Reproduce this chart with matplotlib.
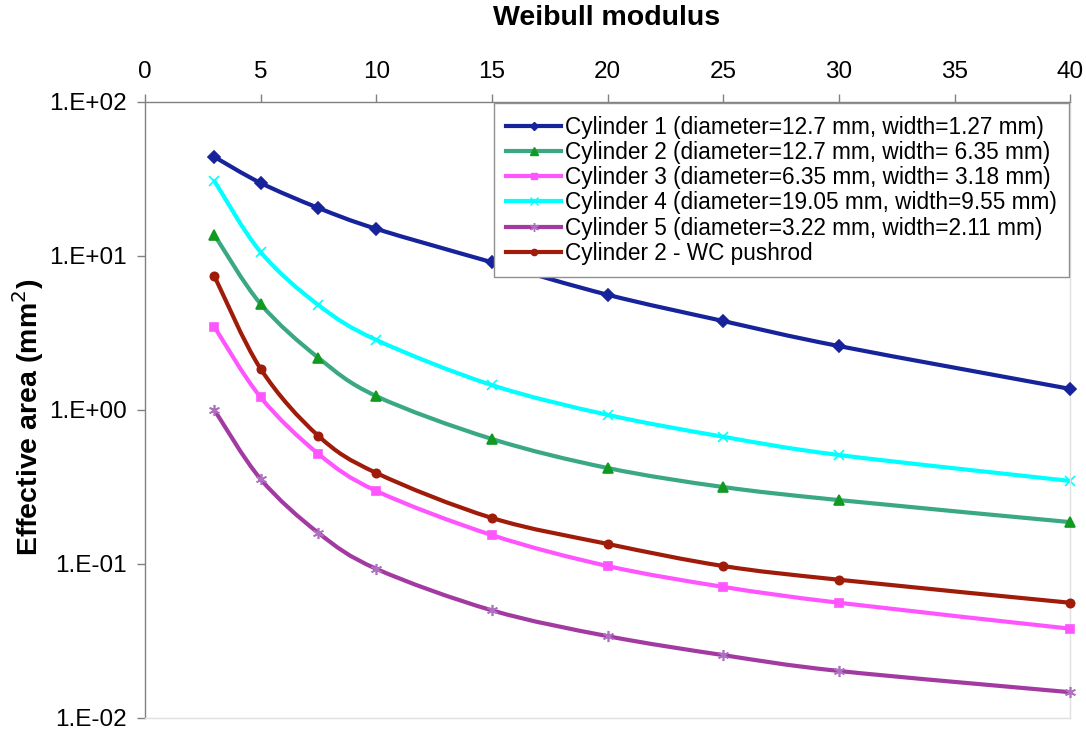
import numpy as np
import matplotlib
matplotlib.use("Agg")
import matplotlib.pyplot as plt
from matplotlib.path import Path
from matplotlib.patches import PathPatch
from matplotlib.lines import Line2D
from matplotlib.ticker import FixedLocator, FuncFormatter

plt.rcParams['font.family'] = ['Liberation Sans', 'DejaVu Sans']

# Weibull modulus values at which the effective area was evaluated
modulus = [3, 5, 7.5, 10, 15, 20, 25, 30, 40]

cyl1 = [44.0, 29.8, 20.5, 15.0, 9.1, 5.6, 3.78, 2.6, 1.37]
cyl2 = [13.7, 4.88, 2.18, 1.23, 0.648, 0.42, 0.316, 0.26, 0.187]
cyl3 = [3.46, 1.21, 0.518, 0.298, 0.154, 0.097, 0.071, 0.056, 0.038]
cyl4 = [30.7, 10.6, 4.8, 2.85, 1.45, 0.93, 0.67, 0.51, 0.346]
cyl5 = [1.0, 0.356, 0.159, 0.093, 0.050, 0.034, 0.0256, 0.0202, 0.0147]
cyl2_wc = [7.4, 1.85, 0.678, 0.39, 0.199, 0.135, 0.097, 0.079, 0.056]

labels = [
    "Cylinder 1 (diameter=12.7 mm, width=1.27 mm)",
    "Cylinder 2 (diameter=12.7 mm, width= 6.35 mm)",
    "Cylinder 3 (diameter=6.35 mm, width= 3.18 mm)",
    "Cylinder 4 (diameter=19.05 mm, width=9.55 mm)",
    "Cylinder 5 (diameter=3.22 mm, width=2.11 mm)",
    "Cylinder 2 - WC pushrod",
]

series = [cyl1, cyl2, cyl3, cyl4, cyl5, cyl2_wc]
line_colors = ["#16239a", "#3aa882", "#ff55ff", "#00ffff", "#a23aa2", "#a01c0a"]
marker_colors = ["#16239a", "#109a20", "#ff55ff", "#00ffff", "#b070c0", "#a01c0a"]
markers = ["D", "^", "s", "x", (6, 2, 0), "o"]
msizes = [6, 7, 6, 7, 8, 6]
zorders = [6, 4, 3, 2, 5, 4]


def smooth_path(xs, ys):
    """Cubic Bezier through the points (smoothed in log-y space)."""
    lx = np.asarray(xs, float)
    ly = np.log10(np.asarray(ys, float))
    n = len(lx)
    verts = [(lx[0], ly[0])]
    codes = [Path.MOVETO]
    for i in range(n - 1):
        p0 = np.array([lx[max(i - 1, 0)], ly[max(i - 1, 0)]])
        p1 = np.array([lx[i], ly[i]])
        p2 = np.array([lx[i + 1], ly[i + 1]])
        p3 = np.array([lx[min(i + 2, n - 1)], ly[min(i + 2, n - 1)]])
        c1 = p1 + (p2 - p0) / 6.0
        c2 = p2 - (p3 - p1) / 6.0
        verts += [tuple(c1), tuple(c2), tuple(p2)]
        codes += [Path.CURVE4] * 3
    verts = [(vx, 10 ** vy) for vx, vy in verts]
    return Path(verts, codes)


fig = plt.figure(figsize=(10.86, 7.31), dpi=100)
ax = fig.add_axes([0.1335, 0.0178, 0.852, 0.8427])
ax.set_yscale("log")
ax.set_xlim(0, 40)
ax.set_ylim(0.01, 100)

handles = []
for ys, lab, lc, mc, mk, ms, zo in zip(series, labels, line_colors, marker_colors,
                                         markers, msizes, zorders):
    patch = PathPatch(smooth_path(modulus, ys), facecolor="none", edgecolor=lc,
                      lw=3.0, capstyle="round", joinstyle="round", zorder=zo)
    ax.add_patch(patch)
    ax.plot(modulus, ys, linestyle="none", marker=mk, markersize=ms,
            color=mc, markeredgecolor=mc, markeredgewidth=1.2, zorder=zo + 0.5,
            clip_on=False)
    handles.append(Line2D([], [], color=lc, lw=3.0, marker=mk, markersize=ms - 1.5,
                          markerfacecolor=mc, markeredgecolor=mc, label=lab))

# x axis on top
ax.xaxis.tick_top()
ax.set_xticks(np.arange(0, 41, 5))

ax.yaxis.set_major_locator(FixedLocator([0.01, 0.1, 1, 10, 100]))
ax.yaxis.set_minor_locator(FixedLocator([]))
ax.yaxis.set_major_formatter(FuncFormatter(lambda v, p: "1.E%+03d" % int(round(np.log10(v)))))

ax.tick_params(axis="both", which="major", direction="out", length=6, width=1,
               color="#808080", labelsize=17.5)
ax.tick_params(axis="x", pad=7.5)
ax.tick_params(axis="y", pad=7)

fig.text(607 / 1086, 1 - 18 / 731, "Weibull modulus", fontsize=20.5,
         fontweight="bold", ha="center", va="center")
fig.text(28 / 1086, 1 - 417 / 731, "Effective area (mm$^2$)", fontsize=20.5,
         fontweight="bold", ha="center", va="center", rotation=90)

for side in ["left", "top"]:
    ax.spines[side].set_color("#808080")
    ax.spines[side].set_linewidth(1.0)
for side in ["right", "bottom"]:
    ax.spines[side].set_color("#e0e0e0")
    ax.spines[side].set_linewidth(1.0)

leg = ax.legend(handles=handles, loc="upper right", fontsize=16.3,
                frameon=True, fancybox=False, edgecolor="#909090",
                framealpha=1.0, borderaxespad=0.05, handlelength=2.4,
                handletextpad=0.18, labelspacing=0.1, borderpad=0.55)
leg.get_frame().set_linewidth(1.0)
leg.set_zorder(10)

fig.savefig("out.png", dpi=100)
